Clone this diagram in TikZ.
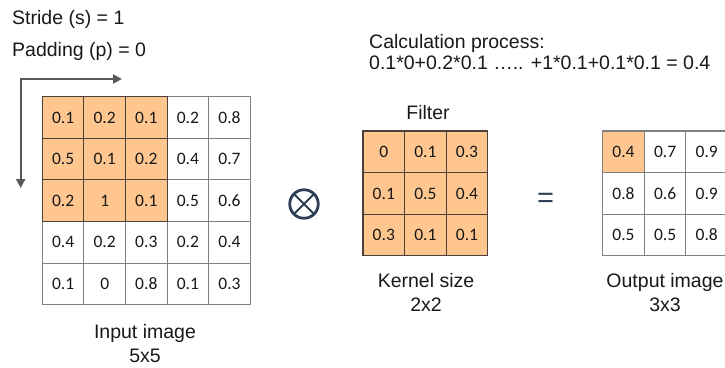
\documentclass[tikz,border=0pt]{standalone}
\usepackage{fontspec}
\setmainfont{Liberation Sans}
\newfontfamily\cellfont{Carlito}
\usetikzlibrary{arrows.meta}
\definecolor{hot}{HTML}{FFC78F}
\definecolor{slate}{HTML}{2D3E55}
\definecolor{arrowgray}{HTML}{595959}
\definecolor{hotline}{HTML}{4A4036}
\begin{document}
\begin{tikzpicture}[x=1pt,y=-1pt,
  lbl/.style={font=\fontsize{19.5}{24}\selectfont, text=black!90, inner sep=0pt},
  cellbox/.style={rectangle, minimum width=41.6pt, minimum height=41.6pt, inner sep=0pt,
    line width=1.1pt, font=\cellfont\fontsize{17.5}{20}\selectfont, text=black!90}]
\useasboundingbox (0,0) rectangle (725,367);
\clip (0,0) rectangle (725,367);
\fill[white] (0,0) rectangle (725,367);

% texts
\node[lbl, anchor=base west] (stride) at (12,24) {Stride (s) = 1};
\node[lbl, anchor=base west] (padding) at (12,56) {Padding (p) = 0};
\node[lbl, anchor=west, align=left, font=\fontsize{19.5}{21}\selectfont] (calc) at (369,51.8)
  {Calculation process:\\0.1*0+0.2*0.1 ….. +1*0.1+0.1*0.1 = 0.4};
\node[lbl, anchor=base] (filterlbl) at (428,119.3) {Filter};

% sliding arrows
\coordinate (corner) at (20.7,79);
\coordinate (hend) at (122,79);
\coordinate (vend) at (20.7,188);
\draw[arrowgray, line width=2pt, {Triangle[length=9pt,width=9pt]}-{Triangle[length=9pt,width=9pt]}]
  (hend) -- (corner) -- (vend);

% input grid (white cells first, then highlighted window)
\foreach \pass in {0,1}{
  \foreach \row [count=\ri] in {{0.1,0.2,0.1,0.2,0.8},{0.5,0.1,0.2,0.4,0.7},{0.2,1,0.1,0.5,0.6},{0.4,0.2,0.3,0.2,0.4},{0.1,0,0.8,0.1,0.3}}{
    \foreach \v [count=\ci] in \row {
      \def\ishot{0}
      \ifnum\ri<4 \ifnum\ci<4 \def\ishot{1}\fi\fi
      \ifnum\ishot=\pass
        \ifnum\pass=1
          \node[cellbox, fill=hot, draw=hotline] (in-\ri-\ci) at ({42.3+41.6*(\ci-0.5)},{96.7+41.6*(\ri-0.5)}) {\v};
        \else
          \node[cellbox, fill=white, draw=black!50] (in-\ri-\ci) at ({42.3+41.6*(\ci-0.5)},{96.7+41.6*(\ri-0.5)}) {\v};
        \fi
      \fi
    }
  }
}
\node[lbl, align=center] (inlbl) at (145,343.3) {Input image\\5x5};

% operator
\node[circle, draw=slate, line width=2.8pt, minimum size=28.5pt, inner sep=0pt,
  path picture={\draw[slate, line width=2pt]
    (path picture bounding box.north west) -- (path picture bounding box.south east)
    (path picture bounding box.north east) -- (path picture bounding box.south west);}]
  (otimes) at (304,204) {};

% filter grid
\foreach \row [count=\ri] in {{0,0.1,0.3},{0.1,0.5,0.4},{0.3,0.1,0.1}}{
  \foreach \v [count=\ci] in \row {
    \node[cellbox, fill=hot, draw=hotline] (k-\ri-\ci) at ({363+41.6*(\ci-0.5)},{131+41.6*(\ri-0.5)}) {\v};
  }
}
\node[lbl, align=center] (kernlbl) at (426,292.3) {Kernel size\\2x2};

\node[inner sep=0pt, text=slate, font=\fontsize{29}{29}\selectfont] (eq) at (545.5,200.5) {=};

% output grid
\foreach \row [count=\ri] in {{0.4,0.7,0.9},{0.8,0.6,0.9},{0.5,0.5,0.8}}{
  \foreach \v [count=\ci] in \row {
    \def\cfill{white}
    \ifnum\ri=1 \ifnum\ci=1 \def\cfill{hot}\fi\fi
    \node[cellbox, fill=\cfill, draw=black!50] (out-\ri-\ci) at ({602.7+41.6*(\ci-0.5)},{131+41.6*(\ri-0.5)}) {\v};
  }
}
\node[lbl, align=center] (outlbl) at (665,292.5) {Output image\\3x3};
\end{tikzpicture}
\end{document}
